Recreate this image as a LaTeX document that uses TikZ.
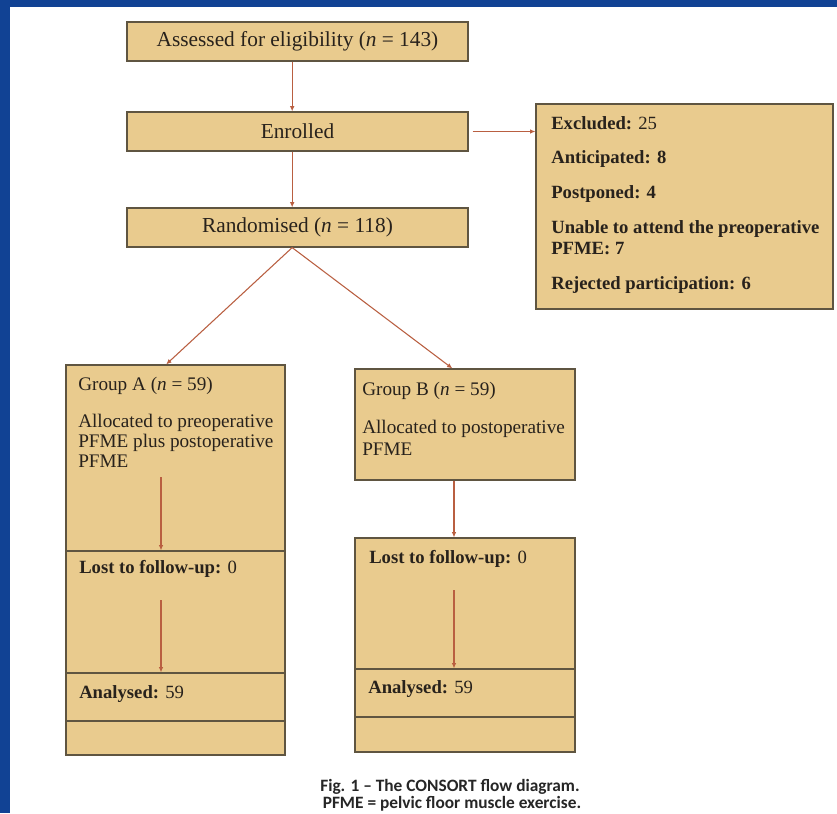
\documentclass[tikz,border=0pt]{standalone}
\usepackage{fontspec}
\setmainfont{Liberation Serif}
\newfontfamily\capfont{Carlito}
\usetikzlibrary{arrows.meta,fit,positioning}
\definecolor{slideblue}{RGB}{17,66,148}
\definecolor{boxtan}{RGB}{233,203,142}
\definecolor{boxedge}{RGB}{95,85,65}
\definecolor{arrowred}{RGB}{185,95,65}
\definecolor{inktext}{RGB}{40,34,28}

\begin{document}
\begin{tikzpicture}[x=0.75pt, y=-0.75pt,
		box/.style={draw=boxedge, line width=0.9pt, fill=boxtan, inner sep=0pt},
		head/.style={box, text=inktext, font=\fontsize{16}{18}\selectfont, minimum width=255.75pt, minimum height=29.25pt},
		txt/.style={inner sep=0pt, text=inktext, align=left, anchor=north west, font=\fontsize{14}{15}\selectfont},
		arr/.style={draw=arrowred, line width=0.8pt, -{Latex[length=4pt, width=3.5pt]}}]
	\useasboundingbox (0, 0) rectangle (837, 813);
	\fill[slideblue] (0, 0) rectangle (837, 813);
	\fill[white] (10, 7) rectangle (837, 813);

	\node[head] (assessed) at (297.5, 41.5) {Assessed for eligibility (\textit{n} = 143)};
	\node[head] (enrolled) at (297.5, 131.5) {Enrolled};
	\node[head] (randomised) at (297.5, 227.5) {Randomised (\textit{n} = 118)};

	\node[box, fit={(536, 104) (833, 309)}] (excluded) {};
	\node[txt, font=\bfseries\fontsize{14}{16}\selectfont] (excludedtext) at (551, 116)
		{Excluded: \mdseries 25\\[10pt]Anticipated: 8\\[10pt]Postponed: 4\\[10pt]Unable to attend the preoperative\\PFME: 7\\[10pt]Rejected participation: 6};

	\node[box, fit={(66, 365) (285, 551)}] (groupA) {};
	\node[box, fit={(66, 551) (285, 673)}] (lostA) {};
	\node[box, fit={(66, 673) (285, 721)}] (analysedA) {};
	\node[box, fit={(66, 721) (285, 755)}] (spareA) {};

	\node[box, fit={(355, 369) (575, 480)}] (groupB) {};
	\node[box, fit={(355, 538) (575, 669)}] (lostB) {};
	\node[box, fit={(355, 669) (575, 717)}] (analysedB) {};
	\node[box, fit={(355, 717) (575, 752)}] (spareB) {};

	\node[txt, font=\fontsize{14.4}{15}\selectfont] (groupAtext) at (78, 377) {Group A (\textit{n} = 59)\\[13pt]Allocated to preoperative\\PFME plus postoperative\\PFME};
	\node[txt] (lostAtext) at (79, 560) {\textbf{Lost to follow-up:} 0};
	\node[txt] (analysedAtext) at (79, 685) {\textbf{Analysed:} 59};
	\node[txt, font=\fontsize{14.4}{16.5}\selectfont] (groupBtext) at (362, 382) {Group B (\textit{n} = 59)\\[12pt]Allocated to postoperative\\PFME};
	\node[txt] (lostBtext) at (369, 550) {\textbf{Lost to follow-up:} 0};
	\node[txt] (analysedBtext) at (368, 680) {\textbf{Analysed:} 59};

	\coordinate (tailA1) at (161, 477);
	\coordinate (tailA2) at (161, 600);
	\coordinate (tailB) at (454, 590);

	\draw[arr] ([xshift=-4pt]assessed.south) -- ([xshift=-4pt]enrolled.north);
	\draw[arr] ([xshift=-4pt]enrolled.south) -- ([xshift=-4pt]randomised.north);
	\draw[arr] ([xshift=3pt]enrolled.east) -- (enrolled.east -| excluded.west);
	\draw[arr] ([xshift=-4pt]randomised.south) -- ([xshift=-7pt]groupA.north);
	\draw[arr] ([xshift=-4pt]randomised.south) -- ([xshift=-9.5pt]groupB.north);
	\draw[arr] (tailA1) -- (tailA1 |- lostA.north);
	\draw[arr] (tailA2) -- (tailA2 |- analysedA.north);
	\draw[arr] (groupB.south -| tailB) -- (tailB |- lostB.north);
	\draw[arr] (tailB) -- (tailB |- analysedB.north);

	\node[font=\capfont\bfseries\fontsize{13}{15}\selectfont, text=black!85, anchor=base] (caption) at (450, 791) {Fig. 1 – The CONSORT flow diagram.};
	\node[font=\capfont\bfseries\fontsize{13}{15}\selectfont, text=black!85, anchor=base] (legend) at (452, 808) {PFME = pelvic floor muscle exercise.};
\end{tikzpicture}
\end{document}
